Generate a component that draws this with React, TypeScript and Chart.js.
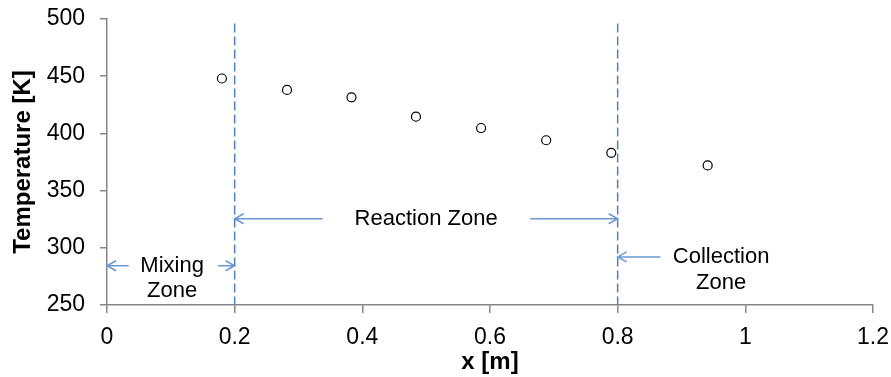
import React, { useEffect, useRef } from "react";
import { Chart, registerables } from "chart.js";

Chart.register(...registerables);

// ---- data ----
const positions = [0.18, 0.282, 0.383, 0.484, 0.586, 0.688, 0.79, 0.941];
const temperatures = [448, 438, 431.5, 414.6, 404.7, 394, 383, 372];

const xTickLabels = ["0", "0.2", "0.4", "0.6", "0.8", "1", "1.2"];
const yTickLabels = ["250", "300", "350", "400", "450", "500"];

const zoneBoundaries = [0.2, 0.8];
const boundaryTop = 496;

// arrows: tail x, head x, y (data units)
const arrowTails = [0.034, 0.174, 0.338, 0.663, 0.867];
const arrowHeads = [0, 0.2, 0.2, 0.8, 0.8];
const arrowYs = [284.3, 284.3, 325.4, 325.4, 292];

const zoneLabels = ["Mixing", "Zone", "Reaction Zone", "Collection", "Zone"];
const zoneLabelX = [0.102, 0.102, 0.5, 0.962, 0.962];
const zoneLabelY = [284.3, 262.5, 325.4, 292, 269.5];

const FONT = "'Liberation Sans', Arial, sans-serif";

const annotationPlugin = {
  id: "zoneAnnotations",
  beforeDatasetsDraw(chart: any) {
    const ctx = chart.ctx;
    const xs = chart.scales.x;
    const ys = chart.scales.y;
    ctx.save();
    // dashed boundaries
    ctx.strokeStyle = "#4F81BD";
    ctx.lineWidth = 1.5;
    ctx.setLineDash([9, 4]);
    zoneBoundaries.forEach((b) => {
      const px = xs.getPixelForValue(b);
      ctx.beginPath();
      ctx.moveTo(px, ys.getPixelForValue(boundaryTop));
      ctx.lineTo(px, ys.getPixelForValue(ys.min));
      ctx.stroke();
    });
    ctx.setLineDash([]);
    // arrows
    ctx.strokeStyle = "#6A98D4";
    ctx.lineWidth = 1.5;
    arrowTails.forEach((t, i) => {
      const x1 = xs.getPixelForValue(t);
      const x2 = xs.getPixelForValue(arrowHeads[i]);
      const y = ys.getPixelForValue(arrowYs[i]);
      const dir = x2 > x1 ? 1 : -1;
      ctx.beginPath();
      ctx.moveTo(x1, y);
      ctx.lineTo(x2, y);
      ctx.moveTo(x2 - dir * 9, y - 5);
      ctx.lineTo(x2, y);
      ctx.lineTo(x2 - dir * 9, y + 5);
      ctx.stroke();
    });
    // labels
    ctx.fillStyle = "#000";
    ctx.font = `22px ${FONT}`;
    ctx.textAlign = "center";
    ctx.textBaseline = "middle";
    zoneLabels.forEach((txt, i) => {
      ctx.fillText(txt, xs.getPixelForValue(zoneLabelX[i]), ys.getPixelForValue(zoneLabelY[i]));
    });
    ctx.restore();
  },
};

export default function App() {
  const ref = useRef<HTMLCanvasElement | null>(null);

  useEffect(() => {
    if (!ref.current) return;
    const chart = new Chart(ref.current, {
      type: "scatter",
      data: {
        datasets: [
          {
            data: positions.map((x, i) => ({ x, y: temperatures[i] })),
            pointRadius: 4.5,
            pointBorderWidth: 1.2,
            borderColor: "#000",
            backgroundColor: "rgba(255,255,255,0)",
            showLine: false,
          },
        ],
      },
      options: {
        responsive: false,
        animation: false,
        layout: { padding: { top: 19, right: 18, left: 0, bottom: 0 } },
        plugins: { legend: { display: false }, tooltip: { enabled: false } },
        scales: {
          x: {
            type: "linear",
            min: 0,
            max: 1.2,
            afterFit(scale: any) {
              scale.height = 72;
              scale.paddingLeft = 0;
              scale.paddingRight = 0;
            },
            ticks: {
              stepSize: 0.2,
              color: "#000",
              padding: 11,
              font: { family: FONT, size: 23 },
              callback: (_v: any, i: number) => xTickLabels[i],
            },
            grid: {
              drawOnChartArea: false,
              drawTicks: true,
              tickLength: 8,
              color: "#868686",
              lineWidth: 1.5,
            },
            border: { color: "#868686", width: 1.5 },
            title: {
              display: true,
              text: "x [m]",
              color: "#000",
              font: { family: FONT, size: 24, weight: "bold" },
              padding: { top: 0, bottom: 0 },
            },
          },
          y: {
            type: "linear",
            min: 250,
            max: 500,
            afterFit(scale: any) {
              scale.width = 107;
              scale.paddingTop = 0;
              scale.paddingBottom = 0;
            },
            ticks: {
              stepSize: 50,
              color: "#000",
              padding: 15,
              font: { family: FONT, size: 23 },
              callback: (_v: any, i: number) => yTickLabels[i],
            },
            grid: {
              drawOnChartArea: false,
              drawTicks: true,
              tickLength: 7,
              color: "#868686",
              lineWidth: 1.5,
            },
            border: { color: "#868686", width: 1.5 },
            title: {
              display: true,
              text: "Temperature [K]",
              color: "#000",
              font: { family: FONT, size: 24, weight: "bold" },
              padding: { top: 9, bottom: 0 },
            },
          },
        },
      },
      plugins: [annotationPlugin],
    });
    return () => chart.destroy();
  }, []);

  return (
    <div style={{ position: "fixed", left: 0, top: 0, width: 891, height: 377, background: "#fff" }}>
      <canvas ref={ref} width={891} height={377} />
    </div>
  );
}
